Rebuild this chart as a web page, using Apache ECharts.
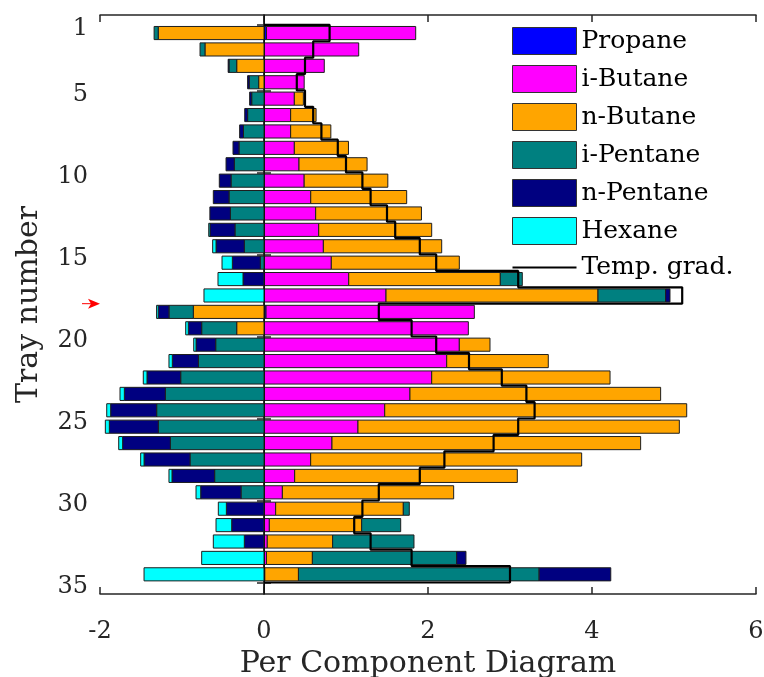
<!DOCTYPE html>
<html>
<head>
<meta charset="utf-8">
<script src="https://cdn.jsdelivr.net/npm/echarts@6/dist/echarts.min.js"></script>
<style>
  html, body { margin: 0; padding: 0; background: #fff; }
  #chart { width: 764px; height: 677px; }
</style>
</head>
<body>
<div id="chart"></div>
<script>
// Tray numbers; each tray occupies the band [tray, tray + 1] on the y axis
const trays = [1, 2, 3, 4, 5, 6, 7, 8, 9, 10, 11, 12, 13, 14, 15, 16, 17,
               18, 19, 20, 21, 22, 23, 24, 25, 26, 27, 28, 29, 30, 31, 32, 33, 34];

const yTickLabels = [1, 5, 10, 15, 20, 25, 30, 35];
const feedTray = 18;

// Positive side (right of zero), per component
const propaneR  = [0.03, 0, 0, 0, 0, 0, 0, 0, 0, 0, 0, 0, 0, 0, 0, 0, 0,
                   0.025, 0, 0, 0, 0, 0, 0, 0, 0, 0, 0, 0, 0, 0, 0, 0, 0];
const iButaneR  = [1.82, 1.155, 0.735, 0.49, 0.37, 0.325, 0.325, 0.37, 0.427, 0.49, 0.57, 0.63,
                   0.667, 0.724, 0.821, 1.033, 1.488, 2.54, 2.492, 2.382, 2.228, 2.045, 1.78,
                   1.472, 1.146, 0.829, 0.569, 0.374, 0.224, 0.142, 0.065, 0.04, 0.03, 0.01];
const nButaneR  = [0, 0, 0, 0, 0.11, 0.31, 0.49, 0.66, 0.83, 1.02, 1.17, 1.29,
                   1.378, 1.443, 1.561, 1.849, 2.585, 0, 0, 0.374, 1.239, 2.175, 3.057,
                   3.683, 3.919, 3.764, 3.305, 2.715, 2.089, 1.557, 1.126, 0.797, 0.56, 0.41];
const iPentaneR = [0, 0, 0, 0, 0, 0, 0, 0, 0, 0, 0, 0, 0, 0, 0, 0.268, 0.825,
                   0, 0, 0, 0, 0, 0, 0, 0, 0, 0, 0, 0, 0.073, 0.476, 0.992, 1.76, 2.935];
const nPentaneR = [0, 0, 0, 0, 0, 0, 0, 0, 0, 0, 0, 0, 0, 0, 0, 0, 0.053,
                   0, 0, 0, 0, 0, 0, 0, 0, 0, 0, 0, 0, 0, 0, 0, 0.113, 0.874];
const hexaneR   = [0, 0, 0, 0, 0, 0, 0, 0, 0, 0, 0, 0, 0, 0, 0, 0, 0,
                   0, 0, 0, 0, 0, 0, 0, 0, 0, 0, 0, 0, 0, 0, 0, 0, 0];

// Negative side (left of zero), magnitudes per component
const propaneL  = [0, 0, 0, 0, 0, 0, 0, 0, 0, 0, 0, 0, 0, 0, 0, 0, 0,
                   0, 0, 0, 0, 0, 0, 0, 0, 0, 0, 0, 0, 0, 0, 0, 0, 0];
const iButaneL  = [0, 0, 0, 0, 0, 0, 0, 0, 0, 0, 0, 0, 0, 0, 0, 0, 0,
                   0, 0, 0, 0, 0, 0, 0, 0, 0, 0, 0, 0, 0, 0, 0, 0, 0];
const nButaneL  = [1.29, 0.72, 0.333, 0.065, 0, 0, 0, 0, 0, 0, 0, 0, 0, 0, 0, 0, 0,
                   0.862, 0.333, 0, 0, 0, 0, 0, 0, 0, 0, 0, 0, 0, 0, 0, 0, 0];
const iPentaneL = [0.05, 0.06, 0.094, 0.115, 0.15, 0.2, 0.25, 0.305, 0.362, 0.402, 0.427, 0.41,
                   0.354, 0.24, 0.045, 0, 0, 0.297, 0.427, 0.589, 0.8, 1.016, 1.203,
                   1.309, 1.289, 1.142, 0.902, 0.602, 0.28, 0, 0, 0, 0, 0];
const nPentaneL = [0, 0, 0.01, 0.02, 0.025, 0.035, 0.047, 0.073, 0.101, 0.143, 0.191, 0.25,
                   0.305, 0.345, 0.341, 0.256, 0, 0.131, 0.163, 0.24, 0.318, 0.411, 0.5,
                   0.561, 0.597, 0.582, 0.561, 0.52, 0.492, 0.459, 0.394, 0.24, 0, 0];
const hexaneL   = [0, 0, 0, 0, 0, 0, 0, 0, 0, 0, 0, 0, 0.015, 0.041, 0.126, 0.305, 0.732,
                   0.02, 0.032, 0.028, 0.041, 0.045, 0.053, 0.048, 0.049, 0.048, 0.041,
                   0.037, 0.057, 0.098, 0.191, 0.378, 0.76, 1.463];

// Temperature gradient per tray
const tempGrad  = [0.8, 0.6, 0.5, 0.4, 0.5, 0.6, 0.7, 0.9, 1.0, 1.2, 1.3, 1.5, 1.6, 1.9, 2.1, 3.1, 5.1,
                   1.4, 1.8, 2.1, 2.5, 2.9, 3.2, 3.3, 3.1, 2.8, 2.2, 1.9, 1.4, 1.2, 1.1, 1.3, 1.8, 3.0];

const components = [
  { name: 'Propane',   color: '#0000ff', right: propaneR,  left: propaneL },
  { name: 'i-Butane',  color: '#ff00ff', right: iButaneR,  left: iButaneL },
  { name: 'n-Butane',  color: '#ffa500', right: nButaneR,  left: nButaneL },
  { name: 'i-Pentane', color: '#008080', right: iPentaneR, left: iPentaneL },
  { name: 'n-Pentane', color: '#000080', right: nPentaneR, left: nPentaneL },
  { name: 'Hexane',    color: '#00ffff', right: hexaneR,   left: hexaneL }
];

const FONT = 'DejaVu Serif';
const AXIS_COLOR = '#262626';
const BAR_HEIGHT = 0.8;

// Stack the components outward from zero on both sides
const cumRight = trays.map(() => 0);
const cumLeft = trays.map(() => 0);
const barSeries = components.map(comp => {
  const data = [];
  trays.forEach((t, i) => {
    const r = comp.right[i];
    if (r > 0) {
      data.push([t + 0.5, cumRight[i], cumRight[i] + r]);
      cumRight[i] += r;
    }
    const l = comp.left[i];
    if (l > 0) {
      data.push([t + 0.5, -cumLeft[i], -(cumLeft[i] + l)]);
      cumLeft[i] += l;
    }
  });
  return {
    name: comp.name,
    type: 'custom',
    z: 2,
    itemStyle: { color: comp.color, borderColor: '#222', borderWidth: 1 },
    encode: { x: [1, 2], y: 0 },
    data: data,
    renderItem: function (params, api) {
      const y = api.value(0);
      const p0 = api.coord([api.value(1), y]);
      const p1 = api.coord([api.value(2), y]);
      const h = Math.abs(api.size([0, BAR_HEIGHT])[1]);
      return {
        type: 'rect',
        shape: {
          x: Math.min(p0[0], p1[0]),
          y: p0[1] - h / 2,
          width: Math.abs(p1[0] - p0[0]),
          height: h
        },
        style: { fill: comp.color, stroke: '#1e1e1e', lineWidth: 1 }
      };
    }
  };
});

// Staircase outline of the temperature gradient, closed back to zero at both ends
const stairPoints = [[0, trays[0]]];
trays.forEach((t, i) => {
  stairPoints.push([tempGrad[i], t]);
  stairPoints.push([tempGrad[i], t + 1]);
});
stairPoints.push([0, trays[trays.length - 1] + 1]);

const chart = echarts.init(document.getElementById('chart'), null, { renderer: 'canvas' });

const xAxisCommon = {
  type: 'value', min: -2, max: 6, interval: 2,
  axisLine: { show: true, lineStyle: { color: AXIS_COLOR, width: 1.5 } },
  axisTick: { show: true, inside: true, length: 7, lineStyle: { color: AXIS_COLOR, width: 1.5 } },
  splitLine: { show: false }
};
const yAxisCommon = {
  type: 'value', inverse: true, min: 0.4, max: 35.7,
  axisLine: { show: true, lineStyle: { color: AXIS_COLOR, width: 1.5 } },
  axisTick: { show: true, inside: true, length: 7, customValues: yTickLabels,
              lineStyle: { color: AXIS_COLOR, width: 1.5 } },
  splitLine: { show: false }
};

chart.setOption({
  animation: false,
  backgroundColor: '#fff',
  grid: { left: 100, right: 8, top: 15, bottom: 83, containLabel: false, outerBoundsMode: 'none' },
  legend: {
    orient: 'vertical',
    left: 512, top: 27,
    padding: 0,
    itemWidth: 64, itemHeight: 27, itemGap: 10,
    symbolKeepAspect: true,
    selectedMode: false,
    textStyle: { fontFamily: FONT, fontSize: 25, color: '#000' },
    data: components.map(c => ({
      name: c.name, icon: 'rect',
      itemStyle: { color: c.color, borderColor: '#333', borderWidth: 1 }
    })).concat([{
      name: 'Temp. grad.',
      icon: 'path://M0,0H640V22H0Z',
      itemStyle: { color: '#000', borderWidth: 0 }
    }])
  },
  xAxis: [
    Object.assign({}, xAxisCommon, {
      position: 'bottom',
      name: 'Per Component Diagram', nameLocation: 'middle', nameGap: 49,
      nameTextStyle: { fontFamily: FONT, fontSize: 30, color: AXIS_COLOR },
      axisLabel: { show: true, margin: 26, fontFamily: FONT, fontSize: 24, color: AXIS_COLOR }
    }),
    Object.assign({}, xAxisCommon, { position: 'top', axisLabel: { show: false } })
  ],
  yAxis: [
    Object.assign({}, yAxisCommon, {
      position: 'left',
      name: 'Tray number', nameLocation: 'middle', nameGap: 56,
      nameTextStyle: { fontFamily: FONT, fontSize: 30, color: AXIS_COLOR },
      axisLabel: {
        show: true, margin: 12, customValues: yTickLabels,
        formatter: v => '{t|' + v + '}',
        rich: { t: { fontFamily: FONT, fontSize: 24, color: AXIS_COLOR, padding: [8, 0, 0, 0] } }
      }
    }),
    Object.assign({}, yAxisCommon, { position: 'right', axisLabel: { show: false } })
  ],
  series: barSeries.concat([{
    name: 'Temp. grad.',
    type: 'line',
    z: 5,
    symbol: 'none',
    itemStyle: { color: '#000' },
    lineStyle: { color: '#000', width: 2.2 },
    data: stairPoints,
    markLine: {
      silent: true,
      symbol: 'none',
      z: 3,
      label: { show: false },
      lineStyle: { color: '#111', width: 1, type: 'solid' },
      data: [{ xAxis: 0 }]
    }
  }])
});

// Red arrow marking the feed tray, just outside the left axis
const tip = chart.convertToPixel({ xAxisIndex: 0, yAxisIndex: 0 }, [-2, feedTray]);
const tx = tip[0], ty = tip[1];
chart.setOption({
  graphic: [
    { type: 'line', shape: { x1: tx - 18, y1: ty, x2: tx - 8, y2: ty },
      style: { stroke: '#ff0000', lineWidth: 1 }, z: 10 },
    { type: 'polygon',
      shape: { points: [[tx, ty], [tx - 12, ty - 5], [tx - 9, ty], [tx - 12, ty + 5]] },
      style: { fill: '#ff0000' }, z: 10 }
  ]
});
</script>
</body>
</html>
